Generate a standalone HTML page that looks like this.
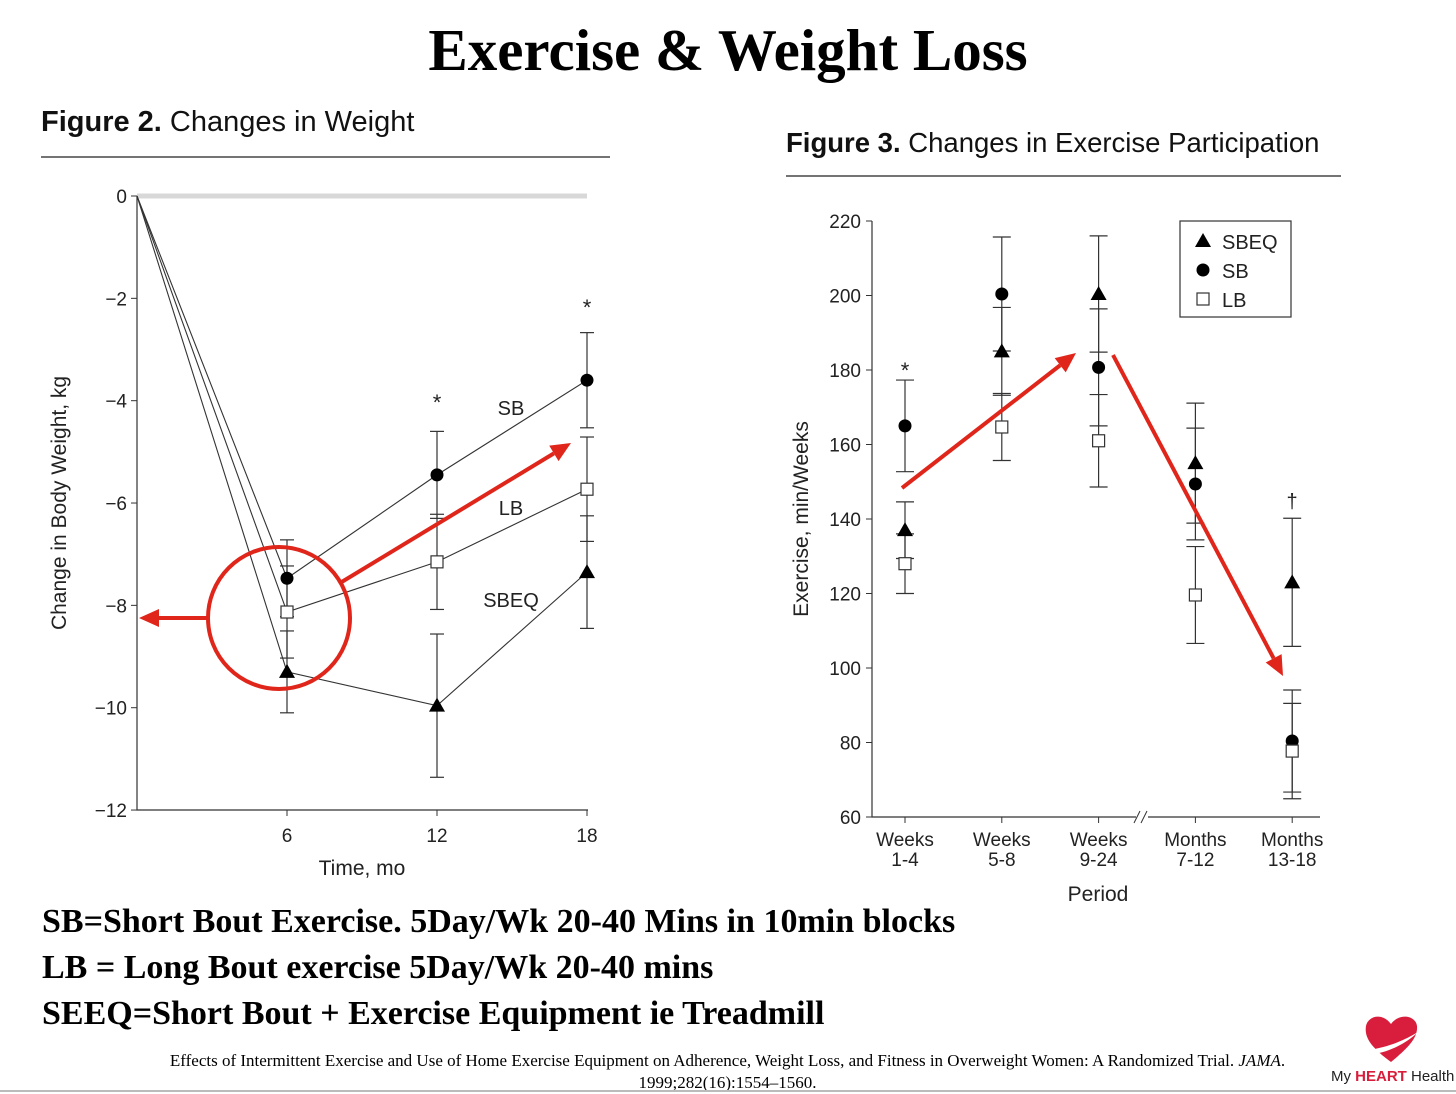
<!DOCTYPE html>
<html><head><meta charset="utf-8"><style>
body{margin:0;background:#fff;width:1456px;height:1093px;overflow:hidden;position:relative;font-family:"Liberation Sans",sans-serif}
.t{position:absolute;white-space:nowrap}
.b{font-family:"Liberation Serif",serif;font-weight:bold;color:#000}
</style></head><body>
<div class="t b" style="left:0;width:1456px;text-align:center;top:16px;font-size:59px">Exercise &amp; Weight Loss</div>
<div class="t" style="left:41px;top:106px;font-size:29px;color:#111"><b>Figure 2.</b> Changes in Weight</div>
<div class="t" style="left:786px;top:127px;font-size:27.5px;color:#111"><b>Figure 3.</b> Changes in Exercise Participation</div>
<div class="t b" style="left:42px;top:903px;font-size:34px">SB=Short Bout Exercise. 5Day/Wk 20-40 Mins in 10min blocks</div>
<div class="t b" style="left:42px;top:949px;font-size:34px">LB = Long Bout exercise 5Day/Wk 20-40 mins</div>
<div class="t b" style="left:42px;top:995px;font-size:34px">SEEQ=Short Bout + Exercise Equipment ie Treadmill</div>
<div class="t" style="left:120px;width:1215px;text-align:center;top:1050px;font-size:17px;line-height:22px;font-family:'Liberation Serif',serif;white-space:normal">Effects of Intermittent Exercise and Use of Home Exercise Equipment on Adherence, Weight Loss, and Fitness in Overweight Women: A Randomized Trial. <i>JAMA</i>.<br>1999;282(16):1554–1560.</div>
<div class="t" style="left:1331px;top:1068px;font-size:15px;color:#222">My <b style="color:#d81e3c">HEART</b> Health</div>
<svg style="position:absolute;left:1362px;top:1012px" width="58" height="52" viewBox="0 0 58 52"><path d="M29 50 C10 36 2 26 4 14 C6 4 20 0 29 12 C38 0 54 4 55 14 C56 26 46 36 29 50Z" fill="#d81e3c"/><path d="M6 38 C22 36 40 30 56 20 C44 32 26 40 12 42Z" fill="#fff"/></svg>
<svg id="c" width="1456" height="1093" style="position:absolute;left:0;top:0"></svg>
<script>
// Figure 2 data
const months=[6,12,18];
const sbW=[-7.47,-5.45,-3.6], sbWe=[0.75,0.85,0.93];
const lbW=[-8.13,-7.15,-5.73], lbWe=[0.9,0.93,1.02];
const sbeqW=[-9.3,-9.96,-7.35], sbeqWe=[0.8,1.4,1.1];
const wTicks=[0,-2,-4,-6,-8,-10,-12], wTickLabels=["0","−2","−4","−6","−8","−10","−12"];
// Figure 3 data
const periods=[["Weeks","1-4"],["Weeks","5-8"],["Weeks","9-24"],["Months","7-12"],["Months","13-18"]];
const sbE=[165,200.4,180.7,149.4,80.4], sbEe=[12.3,15.3,15.7,15,13.7];
const sbeqE=[137,185,200.4,155,123], sbeqEe=[7.6,11.8,15.6,16.1,17.2];
const lbE=[128,164.7,161,119.6,77.7], lbEe=[8,9,12.4,13,12.8];
const eTicks=[60,80,100,120,140,160,180,200,220];
const NS="http://www.w3.org/2000/svg",svg=document.getElementById('c');
function el(t,a,txt){const e=document.createElementNS(NS,t);for(const k in a)e.setAttribute(k,a[k]);if(txt!=null)e.textContent=txt;svg.appendChild(e);return e;}
const xW=m=>137+m*25, yW=v=>196-v*51.17;
const xE=i=>905+i*96.8, yE=v=>817-(v-60)*3.725;
let e;
e=el('line',{x1:41,y1:157,x2:610,y2:157,stroke:'#222','stroke-width':1.3});
e=el('line',{x1:786,y1:176,x2:1341,y2:176,stroke:'#222','stroke-width':1.3});
e=el('line',{x1:137,y1:196,x2:587,y2:196,stroke:'#d8d8d8','stroke-width':5});
e=el('path',{d:`M137 196V810H588`,stroke:'#333',fill:'none','stroke-width':1.2});
wTicks.forEach((v,i)=>{el('line',{x1:131,x2:137,y1:yW(v),y2:yW(v),stroke:'#333'});
e=el('text',{x:127,y:yW(v)+7,'text-anchor':'end','font-size':19,fill:'#222'},wTickLabels[i]);});
months.forEach(m=>{el('line',{x1:xW(m),x2:xW(m),y1:810,y2:816,stroke:'#333'});
e=el('text',{x:xW(m),y:842,'text-anchor':'middle','font-size':19,fill:'#222'},String(m));});
e=el('text',{x:362,y:875,'text-anchor':'middle','font-size':21,fill:'#222'},'Time, mo');
e=el('text',{x:66,y:503,'text-anchor':'middle','font-size':21,fill:'#222',transform:'rotate(-90 66 503)'},'Change in Body Weight, kg');
function errW(x,v,d,xf,yf,w){el('line',{x1:xf(x),x2:xf(x),y1:yf(v+d),y2:yf(v-d),stroke:'#333','stroke-width':1.2});
[v+d,v-d].forEach(u=>el('line',{x1:xf(x)-w,x2:xf(x)+w,y1:yf(u),y2:yf(u),stroke:'#333','stroke-width':1.2}));}
function mark(type,x,y,name){let m;
if(type=='tri')m=el('path',{d:`M${x} ${y-8}L${x+8} ${y+6}L${x-8} ${y+6}Z`,fill:'#000'});
else if(type=='dot')m=el('circle',{cx:x,cy:y,r:6.5,fill:'#000'});
else m=el('rect',{x:x-6,y:y-6,width:12,height:12,fill:'#fff',stroke:'#333','stroke-width':1.2});
}
const s2=[[sbW,sbWe,'dot','sb'],[lbW,lbWe,'sq','lb'],[sbeqW,sbeqWe,'tri','sbeq']];
s2.forEach(([v,d])=>months.forEach((m,i)=>errW(m,v[i],d[i],xW,yW,7)));
s2.forEach(([v,d,t,n])=>{let p=`M${xW(0)} ${yW(0)}`;months.forEach((m,i)=>p+=`L${xW(m)} ${yW(v[i])}`);
e=el('path',{d:p,fill:'none',stroke:'#333','stroke-width':1.1});
months.forEach((m,i)=>mark(t,xW(m),yW(v[i]),n+'-weight-point'));});
[['SB',511,415],['LB',511,515],['SBEQ',511,607]].forEach(([t,x,y])=>{e=el('text',{x,y,'text-anchor':'middle','font-size':20,fill:'#222'},t);});
[[437,410],[587,315]].forEach(([x,y])=>{e=el('text',{x,y,'text-anchor':'middle','font-size':22,fill:'#222'},'*');});
e=el('path',{d:`M872 221V817H1136M1148 817H1320`,stroke:'#333',fill:'none','stroke-width':1.2});
el('path',{d:'M1134 823L1140 811M1141 823L1147 811',stroke:'#333','stroke-width':1});
eTicks.forEach(v=>{el('line',{x1:866,x2:872,y1:yE(v),y2:yE(v),stroke:'#333'});
e=el('text',{x:861,y:yE(v)+7,'text-anchor':'end','font-size':19,fill:'#222'},String(v));});
periods.forEach((p,i)=>{el('line',{x1:xE(i),x2:xE(i),y1:817,y2:823,stroke:'#333'});
e=el('text',{x:xE(i),y:846,'text-anchor':'middle','font-size':19,fill:'#222'},p[0]);
e=el('text',{x:xE(i),y:866,'text-anchor':'middle','font-size':19,fill:'#222'},p[1]);});
e=el('text',{x:1098,y:901,'text-anchor':'middle','font-size':21,fill:'#222'},'Period');
e=el('text',{x:808,y:519,'text-anchor':'middle','font-size':21,fill:'#222',transform:'rotate(-90 808 519)'},'Exercise, min/Weeks');
const s3=[[sbeqE,sbeqEe,'tri','sbeq'],[sbE,sbEe,'dot','sb'],[lbE,lbEe,'sq','lb']];
s3.forEach(([v,d])=>v.forEach((u,i)=>errW(i,u,d[i],xE,yE,9)));
s3.forEach(([v,d,t,n])=>v.forEach((u,i)=>mark(t,xE(i),yE(u),n+'-exercise-point')));
e=el('text',{x:905,y:378,'text-anchor':'middle','font-size':22,fill:'#222'},'*');
e=el('text',{x:1292,y:508,'text-anchor':'middle','font-size':20,fill:'#222'},'†');
e=el('rect',{x:1180,y:221,width:111,height:96,fill:'#fff',stroke:'#333','stroke-width':1.2});
[['tri','SBEQ',241],['dot','SB',270],['sq','LB',299]].forEach(([t,l,y])=>{mark(t,1203,y,'legend-marker');
e=el('text',{x:1222,y:y+8,'font-size':20,fill:'#222'},l);});
const R='#e0261b';
function arrow(x1,y1,x2,y2,n){const a=Math.atan2(y2-y1,x2-x1),L=20,W=9;
const bx=x2-L*Math.cos(a),by=y2-L*Math.sin(a);
el('line',{x1,y1,x2:bx,y2:by,stroke:R,'stroke-width':4});
e=el('path',{d:`M${x2} ${y2}L${bx-W*Math.sin(a)} ${by+W*Math.cos(a)}L${bx+W*Math.sin(a)} ${by-W*Math.cos(a)}Z`,fill:R});}
e=el('circle',{cx:279,cy:618,r:71,fill:'none',stroke:R,'stroke-width':4});
arrow(208,618,139,618,'left-arrow');
arrow(340,583,571,443,'up-arrow-fig2');
arrow(902,488,1076,353,'up-arrow-fig3');
arrow(1113,355,1283,676,'down-arrow-fig3');
el('line',{x1:0,y1:1091,x2:1456,y2:1091,stroke:'#bbb','stroke-width':2});
</script>
</body></html>
